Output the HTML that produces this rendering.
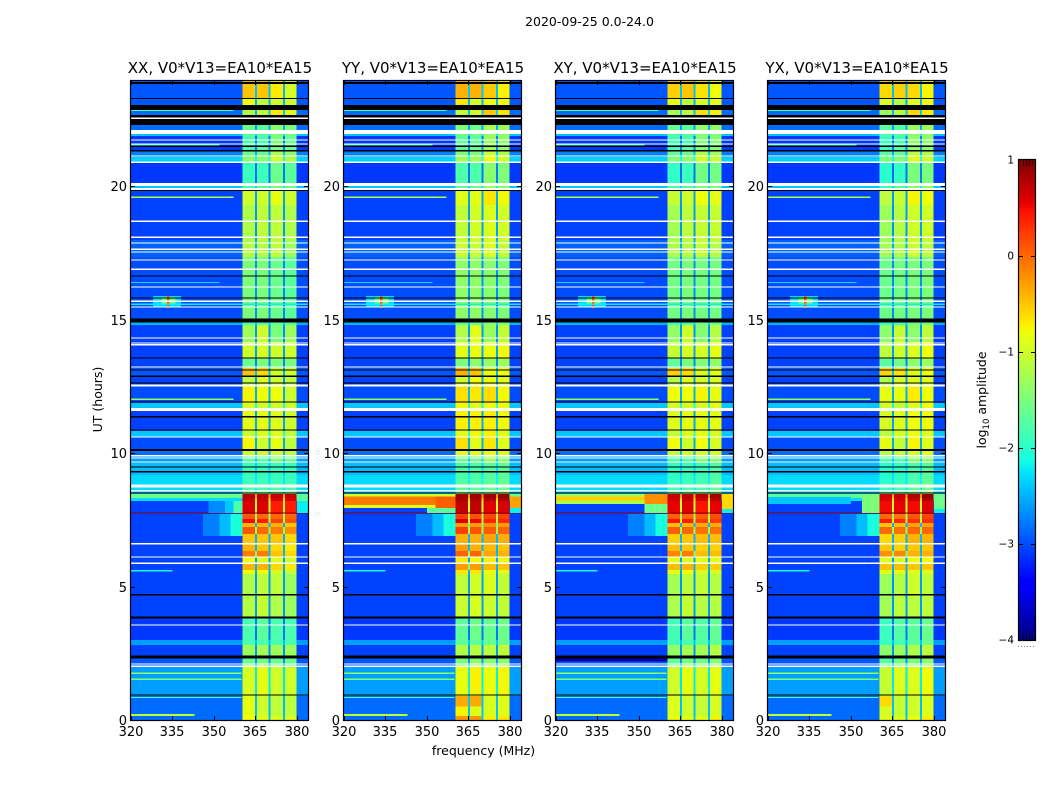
<!DOCTYPE html>
<html lang="en">
<head>
<meta charset="utf-8">
<title>2020-09-25 dynamic spectra</title>
<style>
html,body{margin:0;padding:0;background:#fff;}
svg{display:block;font-family:"DejaVu Sans","Liberation Sans",sans-serif;}
</style>
</head>
<body>
<svg id="chart" xmlns="http://www.w3.org/2000/svg" width="1050" height="800" viewBox="0 0 1050 800">
  <rect x="0" y="0" width="1050" height="800" fill="#fff"/>
  <text x="589.5" y="26" font-size="12.5" text-anchor="middle" fill="#000">2020-09-25 0.0-24.0</text>
  <text x="483.5" y="755" font-size="12.5" text-anchor="middle" fill="#000">frequency (MHz)</text>
  <text transform="translate(102,399.5) rotate(-90)" font-size="12.5" text-anchor="middle" fill="#000">UT (hours)</text>
  <text transform="translate(986,400) rotate(-90)" font-size="12.5" text-anchor="middle" fill="#000">log<tspan font-size="8.5" dy="3">10</tspan><tspan dy="-3"> amplitude</tspan></text>
  <g id="panels"></g>
  <g id="colorbar"></g>
</svg>
<script>
// ---- Data ----
const panelTitles = ['XX, V0*V13=EA10*EA15', 'YY, V0*V13=EA10*EA15', 'XY, V0*V13=EA10*EA15', 'YX, V0*V13=EA10*EA15'];
const xTicks = [320, 335, 350, 365, 380];
const yTicks = [0, 5, 10, 15, 20];
const colorTicks = [1, 0, -1, -2, -3, -4];

// Frequency channel groups (MHz): off-band, four sub-bands with gaps, off-band
const channelEdges = [320, 360.4, 364.9, 365.5, 369.8, 370.5, 374.9, 375.6, 379.9, 384];

// Time blocks: top hour of each block; each block runs down to the next top
const blockTops = [23.95,23.31,22.86,22.30,21.96,21.89,21.51,21.33,21.10,20.91,20.13,19.83,19.30,17.99,17.35,14.92,14.81,14.17,13.57,13.19,12.89,12.52,11.88,11.58,10.83,10.61,10.08,9.90,9.63,9.18,8.88,8.58,8.47,8.32,8.21,7.76,7.72,7.53,7.38,7.23,6.97,6.56,6.33,6.11,5.85,5.62,5.47,4.65,3.82,3.00,2.81,2.40,2.02,0.90,0.15];
const blockBottom = 0;

// log10 amplitude of the off-band channels per block
const offLevels = [-2.95,-2.95,-2.85,-2.85,-2.4,-3.1,-3.1,-2.75,-2.35,-3.1,-2.4,-3.05,-3.05,-2.9,-3.0,-2.5,-3.05,-3.05,-3.05,-2.95,-3.05,-3.0,-2.4,-3.05,-2.4,-3.0,-2.85,-2.6,-2.45,-2.3,-2.3,-2.4,-1.6,-2.3,-3.05,-3.05,-3.05,-3.05,-3.05,-3.05,-3.05,-3.05,-3.05,-3.05,-3.05,-3.05,-3.05,-3.05,-3.1,-2.6,-3.05,-2.95,-2.6,-2.85,-2.85];

// log10 amplitude of the four sub-bands per block (XX reference levels)
const bandA = [-0.5,-0.8,-1.2,-1.6,-1.7,-1.8,-1.8,-1.6,-1.4,-1.9,-1.8,-1.0,-1.2,-1.15,-1.5,-1.8,-1.3,-1.0,-1.6,-0.5,-1.1,-0.75,-0.9,-0.85,-1.0,-0.75,-1.0,-1.7,-1.9,-1.9,-1.8,-1.6,0.75,0.7,0.6,0.6,0.1,0.5,-0.4,0.1,-0.5,-0.4,-0.1,-0.8,-0.4,-0.8,-1.2,-1.15,-1.8,-1.8,-1.3,-1.6,-0.95,-0.85,-0.8];
const bandB = [-0.5,-1.1,-1.1,-1.7,-1.7,-1.8,-1.7,-1.6,-1.4,-1.9,-1.7,-1.0,-1.1,-1.15,-1.5,-1.8,-1.0,-0.95,-1.5,-0.6,-0.9,-0.8,-1.0,-0.85,-0.9,-1.0,-1.0,-1.7,-1.9,-1.9,-1.8,-1.6,0.75,0.7,0.6,0.6,0.0,0.4,-0.4,0.0,-0.5,-0.5,-0.1,-0.9,-0.4,-0.8,-1.1,-1.05,-1.7,-1.8,-1.25,-1.5,-0.85,-1.0,-0.85];
const bandC = [-0.7,-1.0,-0.7,-1.4,-1.5,-1.5,-1.5,-1.2,-1.0,-1.6,-1.5,-0.85,-1.1,-1.1,-1.6,-1.6,-1.5,-1.0,-1.5,-1.0,-1.0,-0.8,-1.0,-0.9,-0.9,-0.85,-1.0,-1.5,-1.9,-1.9,-1.8,-1.6,0.7,0.6,0.4,0.5,0.0,0.2,-0.4,-0.1,-0.5,-0.6,-0.5,-0.9,-0.6,-1.0,-1.1,-1.2,-1.8,-1.8,-1.3,-1.6,-1.0,-1.1,-0.9];
const bandD = [-0.95,-1.0,-0.9,-1.5,-1.6,-1.6,-1.6,-1.4,-1.2,-1.7,-1.6,-1.0,-1.2,-1.3,-1.7,-1.7,-1.3,-1.0,-1.5,-1.0,-1.1,-1.0,-1.0,-1.0,-1.1,-1.1,-1.1,-1.6,-1.9,-1.9,-1.8,-1.6,0.7,0.6,0.4,0.4,0.0,0.1,-0.5,-0.2,-0.6,-0.7,-0.6,-1.0,-0.7,-1.1,-1.3,-1.3,-1.8,-1.8,-1.3,-1.6,-1.0,-1.1,-0.9];

// Level added to each sub-band for each panel
const bandShiftXX = [0, 0, 0, 0];
const bandShiftYY = [0.12, 0.12, 0.18, 0.22];
const bandShiftXY = [-0.05, 0.0, 0.05, 0.15];
const bandShiftYX = [-0.1, -0.05, 0.1, 0.2];

// Masked rows: [hour, thickness in hours]
const whiteRows = [[22.56,.05],[22.04,.15],[21.74,.05],[21.59,.05],[21.14,.05],[20.90,.05],[20.07,.11],[19.90,.08],[18.70,.05],[18.10,.05],[17.88,.05],[17.65,.05],[17.54,.05],[17.24,.05],[16.90,.05],[16.23,.05],[15.70,.05],[15.48,.05],[14.32,.05],[14.13,.05],[14.06,.05],[13.23,.05],[12.54,.07],[11.64,.11],[10.61,.05],[9.90,.05],[9.82,.05],[9.67,.05],[8.77,.1],[8.60,.06],[6.60,.05],[6.11,.05],[5.88,.05],[3.56,.05],[2.10,.05],[2.02,.05]];
const blackRows = [[23.88,.08],[23.30,.04],[22.96,.19],[22.62,.11],[22.41,.22],[21.51,.05],[21.33,.05],[19.85,.04],[16.64,.05],[15.82,.05],[14.97,.15],[13.57,.05],[13.12,.05],[12.89,.05],[12.63,.05],[11.92,.05],[11.36,.05],[10.87,.05],[10.12,.08],[9.48,.05],[9.30,.05],[8.51,.05],[4.69,.05],[3.84,.08],[2.36,.11],[0.94,.05]];

// Local features: [top hour, bottom hour, start MHz, end MHz, log10 amplitude]
const sharedFeatures = [
  [15.9,15.5,328,338,-2.3],[15.85,15.55,331,336,-1.5],[15.9,15.45,333,334,0.1],
  [19.62,19.56,320,357,-1.2],[15.62,15.55,320,384,-2.2],[16.42,16.37,320,352,-2.3],
  [12.05,12.0,320,357,-1.4],[22.88,22.82,320,357,-1.8],[21.58,21.52,320,352,-1.9],
  [1.78,1.72,320,360,-1.4],[1.55,1.49,320,360,-1.5],[0.87,0.82,320,360,-1.8],
  [0.22,0.15,320,343,-1.1],[5.62,5.57,320,335,-2.1],[7.78,7.74,320,384,0.95],
  [7.72,6.9,346,352,-2.75],[7.72,6.9,352,356,-2.45],[7.72,6.9,356,360.4,-2.1],[8.21,7.76,380,384,-2.2]
];
const featuresXX = [[8.21,7.76,348,354,-2.7],[8.21,7.76,354,357,-2.4],[8.21,7.76,357,360.4,-1.8],[8.47,8.21,380,384,-1.7]];
const featuresYY = [[8.47,8.38,320,360.4,-1.0],[8.38,8.05,320,353,-0.1],[8.05,7.95,320,353,-0.9],[8.38,7.95,353,360.4,0.05],[8.38,7.95,380,384,-0.3],[7.95,7.76,350,360.4,-1.7],[0.9,0.5,360.4,364.9,-0.35],[0.9,0.5,365.5,369.8,-0.35],[0.15,0,360.4,364.9,-0.25],[0.15,0,365.5,369.8,-0.25]];
const featuresXY = [[8.47,8.38,320,360.4,-1.3],[8.38,8.22,320,352,-0.55],[8.22,8.1,320,352,-1.2],[8.47,8.1,352,360.4,-0.2],[8.1,7.76,352,360.4,-1.6],[8.47,7.9,380,384,-0.6],[2.42,2.2,320,360.4,-3.8]];
const featuresYX = [[8.47,8.35,320,360.4,-1.7],[8.35,8.1,320,350,-2.4],[8.47,7.76,354,360.4,-1.5],[8.47,7.9,380,384,-1.6],[0.9,0.5,360.4,364.9,-0.6]];

// ---- Axis functions ----
const panelLefts = [131, 344, 556, 768];
const panelWidth = 177;
const topPx = 81;
const bottomPx = 720;
const pxPerHour = 26.68;
const pxPerMHz = 2.766;
const SVGNS = 'http://www.w3.org/2000/svg';
const yScale = h => bottomPx - h * pxPerHour;
const xScale = (f, left) => left + (f - 320) * pxPerMHz;
const colorY = v => 160 + (1 - v) * 96;

function ramp(t, pts) {
  for (let i = 1; i < pts.length; i++) {
    if (t <= pts[i][0]) {
      const a = pts[i - 1], b = pts[i];
      return a[1] + (b[1] - a[1]) * (t - a[0]) / (b[0] - a[0]);
    }
  }
  return pts[pts.length - 1][1];
}
function jet(level) {
  const t = Math.max(0, Math.min(1, (level + 4) / 5));
  const r = ramp(t, [[0,0],[.35,0],[.66,1],[.89,1],[1,.5]]);
  const g = ramp(t, [[0,0],[.125,0],[.375,1],[.64,1],[.91,0],[1,0]]);
  const b = ramp(t, [[0,.5],[.11,1],[.34,1],[.65,0],[1,0]]);
  return 'rgb(' + Math.round(r * 255) + ',' + Math.round(g * 255) + ',' + Math.round(b * 255) + ')';
}
function gapLevel(off, band) {
  const share = band > -0.3 ? 0.55 : 0.22;
  return off + (band - off) * share;
}
function make(tag, attrs, parent) {
  const el = document.createElementNS(SVGNS, tag);
  for (const k in attrs) el.setAttribute(k, attrs[k]);
  parent.appendChild(el);
  return el;
}
function formatTick(v) {
  return v < 0 ? '\u2212' + Math.abs(v) : String(v);
}

// ---- Panels ----
const panelsGroup = document.getElementById('panels');
const panelShifts = [bandShiftXX, bandShiftYY, bandShiftXY, bandShiftYX];
const panelFeatures = [featuresXX, featuresYY, featuresXY, featuresYX];

panelTitles.forEach(function (title, p) {
  const left = panelLefts[p];
  const shift = panelShifts[p];
  const g = make('g', {}, panelsGroup);
  
  

  const plotRect = (x0, x1, y0, y1, fill, name) => {
    const r = make('rect', {
      x: x0, y: y0, width: Math.max(0.5, x1 - x0), height: Math.max(0.5, y1 - y0),
      fill: fill, 'shape-rendering': 'crispEdges'
    }, g);
    
    
    return r;
  };

  blockTops.forEach(function (top, b) {
    const bottom = b + 1 < blockTops.length ? blockTops[b + 1] : blockBottom;
    const off = offLevels[b];
    const a = bandA[b] + shift[0], bb = bandB[b] + shift[1], c = bandC[b] + shift[2], d = bandD[b] + shift[3];
    const cells = [off, a, gapLevel(off, (a + bb) / 2), bb, gapLevel(off, (bb + c) / 2), c, gapLevel(off, (c + d) / 2), d, off];
    cells.forEach(function (level, i) {
      plotRect(xScale(channelEdges[i], left), xScale(channelEdges[i + 1], left), yScale(top), yScale(bottom), jet(level), 'heatmap-cell');
    });
  });

  sharedFeatures.concat(panelFeatures[p]).forEach(function (f) {
    plotRect(xScale(f[2], left), xScale(f[3], left), yScale(f[0]), yScale(f[1]), jet(f[4]), 'heatmap-feature');
  });

  blackRows.forEach(function (row) {
    plotRect(left, left + panelWidth, yScale(row[0] + row[1] / 2), yScale(row[0] - row[1] / 2), '#000', 'flagged-row');
  });
  whiteRows.forEach(function (row) {
    plotRect(left, left + panelWidth, yScale(row[0] + row[1] / 2), yScale(row[0] - row[1] / 2), '#fff', 'masked-row');
  });

  const frame = make('rect', { x: left - 0.5, y: topPx - 0.5, width: panelWidth + 1, height: bottomPx - topPx + 1, fill: 'none', stroke: '#000', 'stroke-width': 1.2 }, g);
  
  

  const titleEl = make('text', { x: left + panelWidth / 2 + 0.5, y: 73, 'font-size': 15, 'text-anchor': 'middle', fill: '#000' }, g);
  titleEl.textContent = title;
  
  

  xTicks.forEach(function (v) {
    const x = Math.round(xScale(v, left)) + 0.5;
    make('line', { x1: x, x2: x, y1: bottomPx, y2: bottomPx - 4, stroke: '#000', 'stroke-width': 1 }, g);
    make('line', { x1: x, x2: x, y1: topPx, y2: topPx + 4, stroke: '#000', 'stroke-width': 1 }, g);
    const t = make('text', { x: x - 0.5, y: 736, 'font-size': 13, 'text-anchor': 'middle', fill: '#000' }, g);
    t.textContent = String(v);
    
    
  });
  yTicks.forEach(function (v) {
    const y = Math.round(yScale(v)) + 0.5;
    make('line', { x1: left, x2: left + 4, y1: y, y2: y, stroke: '#000', 'stroke-width': 1 }, g);
    make('line', { x1: left + panelWidth, x2: left + panelWidth - 4, y1: y, y2: y, stroke: '#000', 'stroke-width': 1 }, g);
    const t = make('text', { x: left - 4, y: y + 4.5, 'font-size': 13, 'text-anchor': 'end', fill: '#000' }, g);
    t.textContent = String(v);
    
    
  });
});

// ---- Colorbar ----
const cb = document.getElementById('colorbar');
const cbLeft = 1019, cbRight = 1035, cbTop = 160, cbBottom = 640;
for (let y = cbTop; y < cbBottom; y += 2) {
  const level = 1 - (y + 1 - cbTop) / 96;
  const s = make('rect', { x: cbLeft, y: y, width: cbRight - cbLeft, height: 2, fill: jet(level), 'shape-rendering': 'crispEdges' }, cb);
  
  
}
const cbFrame = make('rect', { x: cbLeft - 0.5, y: cbTop - 0.5, width: cbRight - cbLeft + 1, height: cbBottom - cbTop + 1, fill: 'none', stroke: '#000', 'stroke-width': 1.2 }, cb);


colorTicks.forEach(function (v) {
  const y = colorY(v);
  if (v < 1 && v > -4) {
    make('line', { x1: cbLeft, x2: cbLeft + 4, y1: y + 0.5, y2: y + 0.5, stroke: '#000', 'stroke-width': 1 }, cb);
    make('line', { x1: cbRight, x2: cbRight - 4, y1: y + 0.5, y2: y + 0.5, stroke: '#000', 'stroke-width': 1 }, cb);
  }
  const t = make('text', { x: 1014, y: y + 3.5, 'font-size': 10.5, 'text-anchor': 'end', fill: '#000' }, cb);
  t.textContent = formatTick(v);
  
  
});
[1023, 1026, 1029, 1032].forEach(function (x) {
  make('line', { x1: x + 0.5, x2: x + 0.5, y1: cbTop, y2: cbTop + 6, stroke: '#000', 'stroke-width': 1, opacity: 0.7 }, cb);
  make('line', { x1: x + 0.5, x2: x + 0.5, y1: cbBottom, y2: cbBottom - 6, stroke: '#000', 'stroke-width': 1, opacity: 0.7 }, cb);
});
const dots = make('line', { x1: 1018, x2: 1035, y1: 646.5, y2: 646.5, stroke: '#888', 'stroke-width': 1, 'stroke-dasharray': '1 2' }, cb);


</script>
</body>
</html>
